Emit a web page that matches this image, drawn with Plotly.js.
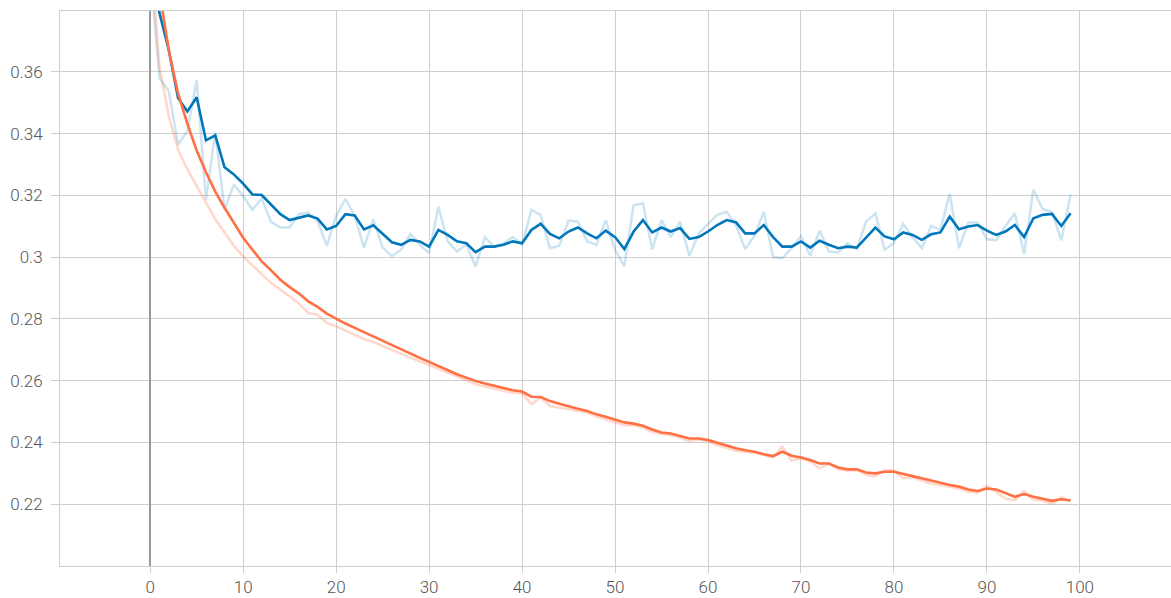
<!DOCTYPE html>
<html>
<head>
<meta charset="utf-8">
<script src="https://cdn.plot.ly/plotly-3.0.1.min.js"></script>
<style>html,body{margin:0;padding:0;background:#fff;}#chart{width:1171px;height:598px;}</style>
</head>
<body>
<div id="chart"></div>
<script>
const steps = Array.from({length: 100}, (_, i) => i);

const blueRaw = [0.393,0.358,0.3537,0.3365,0.3408,0.3574,0.3187,0.3404,0.3155,0.3235,
0.3198,0.3153,0.3189,0.3114,0.3096,0.3096,0.3139,0.3144,0.3117,0.3037,
0.3133,0.3189,0.3133,0.3031,0.3123,0.3031,0.3004,0.3024,0.3075,0.3040,
0.3013,0.3163,0.3051,0.3018,0.3040,0.2970,0.3065,0.3034,0.3045,0.3065,
0.3040,0.3153,0.3137,0.3029,0.3037,0.3118,0.3115,0.3051,0.3040,0.3120,
0.3024,0.2970,0.3169,0.3174,0.3024,0.3120,0.3065,0.3115,0.3004,0.3077,
0.3108,0.3137,0.3147,0.3104,0.3026,0.3069,0.3147,0.3000,0.2997,0.3029,
0.3069,0.3004,0.3086,0.3018,0.3015,0.3045,0.3026,0.3115,0.3142,0.3024,
0.3045,0.3108,0.3065,0.3029,0.3101,0.3088,0.3206,0.3029,0.3112,0.3112,
0.3058,0.3054,0.3101,0.3142,0.3011,0.3219,0.3155,0.3147,0.3054,0.3204];

const blueSmooth = [0.393,0.379,0.3671,0.3515,0.3472,0.3518,0.3378,0.3394,0.3291,0.3268,
0.3238,0.3203,0.3201,0.3169,0.3139,0.3120,0.3128,0.3135,0.3125,0.3090,
0.3101,0.3139,0.3135,0.3090,0.3103,0.3074,0.3048,0.3040,0.3056,0.3051,
0.3034,0.3088,0.3072,0.3051,0.3045,0.3016,0.3034,0.3034,0.3040,0.3051,
0.3045,0.3088,0.3108,0.3075,0.3061,0.3083,0.3096,0.3077,0.3061,0.3086,
0.3065,0.3026,0.3083,0.3120,0.3080,0.3096,0.3083,0.3094,0.3059,0.3065,
0.3083,0.3104,0.3120,0.3113,0.3077,0.3077,0.3104,0.3065,0.3034,0.3034,
0.3051,0.3031,0.3053,0.3040,0.3029,0.3034,0.3031,0.3063,0.3096,0.3067,
0.3058,0.3080,0.3072,0.3056,0.3074,0.3080,0.3131,0.3090,0.3099,0.3104,
0.3086,0.3072,0.3083,0.3104,0.3065,0.3126,0.3137,0.3140,0.3101,0.3142];

const orangeRaw = [0.400,0.3617,0.3456,0.3348,0.3284,0.3230,0.3176,0.3123,0.3080,0.3037,
0.3002,0.2975,0.2945,0.2916,0.2895,0.2873,0.2850,0.2819,0.2814,0.2787,
0.2776,0.2763,0.2750,0.2735,0.2725,0.2712,0.2701,0.2688,0.2675,0.2663,
0.2651,0.2637,0.2626,0.2613,0.2602,0.2588,0.2581,0.2574,0.2567,0.2561,
0.2559,0.2524,0.2545,0.2518,0.2513,0.2508,0.2502,0.2497,0.2484,0.2475,
0.2465,0.2456,0.2456,0.2448,0.2434,0.2427,0.2424,0.2416,0.2404,0.2410,
0.2404,0.2391,0.2383,0.2373,0.2370,0.2367,0.2359,0.2352,0.2386,0.2341,
0.2349,0.2338,0.2316,0.2332,0.2313,0.2309,0.2311,0.2295,0.2291,0.2311,
0.2309,0.2284,0.2287,0.2276,0.2267,0.2262,0.2257,0.2251,0.2240,0.2237,
0.2259,0.2240,0.2218,0.2213,0.2243,0.2215,0.2211,0.2202,0.2222,0.2210];

const orangeSmooth = [0.400,0.386,0.367,0.353,0.3432,0.3345,0.3275,0.3212,0.3160,0.3112,
0.3063,0.3024,0.2986,0.2957,0.2927,0.2903,0.2882,0.2857,0.2839,0.2817,
0.2800,0.2785,0.2771,0.2757,0.2744,0.2728,0.2714,0.2701,0.2688,0.2674,
0.2661,0.2647,0.2634,0.2621,0.2610,0.2599,0.2591,0.2583,0.2575,0.2569,
0.2565,0.2548,0.2547,0.2534,0.2525,0.2516,0.2509,0.2502,0.2491,0.2483,
0.2473,0.2465,0.2461,0.2454,0.2442,0.2432,0.2429,0.2422,0.2413,0.2413,
0.2408,0.2399,0.2389,0.2381,0.2375,0.2370,0.2362,0.2356,0.2370,0.2357,
0.2351,0.2343,0.2332,0.2332,0.2319,0.2313,0.2313,0.2303,0.2300,0.2305,
0.2305,0.2297,0.2291,0.2284,0.2276,0.2270,0.2262,0.2257,0.2248,0.2243,
0.2251,0.2248,0.2235,0.2224,0.2233,0.2224,0.2218,0.2211,0.2216,0.2212];

const xTicks = [0,10,20,30,40,50,60,70,80,90,100];
const yTicks = [0.22,0.24,0.26,0.28,0.3,0.32,0.34,0.36];

const BLUE = '#0077bb';
const ORANGE = '#ff7043';

const traces = [
  {x: steps, y: blueRaw, mode: 'lines', line: {color: 'rgba(0,119,187,0.2)', width: 2.5}, hoverinfo: 'skip'},
  {x: steps, y: orangeRaw, mode: 'lines', line: {color: 'rgba(255,112,67,0.28)', width: 2.5}, hoverinfo: 'skip'},
  {x: steps, y: blueSmooth, mode: 'lines', line: {color: BLUE, width: 2.6}},
  {x: steps, y: orangeSmooth, mode: 'lines', line: {color: ORANGE, width: 2.6}}
];

const tickFont = {family: 'Roboto, "Liberation Sans", sans-serif', size: 17, color: '#555', weight: 300};

const layout = {
  width: 1171, height: 598,
  margin: {l: 60, r: 0, t: 11, b: 32, pad: 0},
  paper_bgcolor: '#fff', plot_bgcolor: '#fff',
  showlegend: false,
  xaxis: {
    range: [-9.7, 109.8],
    tickvals: xTicks, ticktext: xTicks.map(String),
    showgrid: true, gridcolor: '#cfcfcf', gridwidth: 1,
    zeroline: true, zerolinecolor: '#999', zerolinewidth: 2,
    showline: true, linecolor: '#cfcfcf', linewidth: 1, mirror: true,
    ticks: 'outside', ticklen: 6, tickcolor: '#cfcfcf',
    tickfont: tickFont
  },
  yaxis: {
    range: [0.2, 0.3797],
    tickvals: yTicks, ticktext: yTicks.map(String),
    showgrid: true, gridcolor: '#cfcfcf', gridwidth: 1,
    zeroline: false,
    showline: true, linecolor: '#cfcfcf', linewidth: 1,
    ticks: 'outside', ticklen: 8, tickcolor: '#cfcfcf',
    ticklabelstandoff: 5,
    tickfont: tickFont
  }
};

Plotly.newPlot('chart', traces, layout, {displayModeBar: false, staticPlot: true});
</script>
</body>
</html>
